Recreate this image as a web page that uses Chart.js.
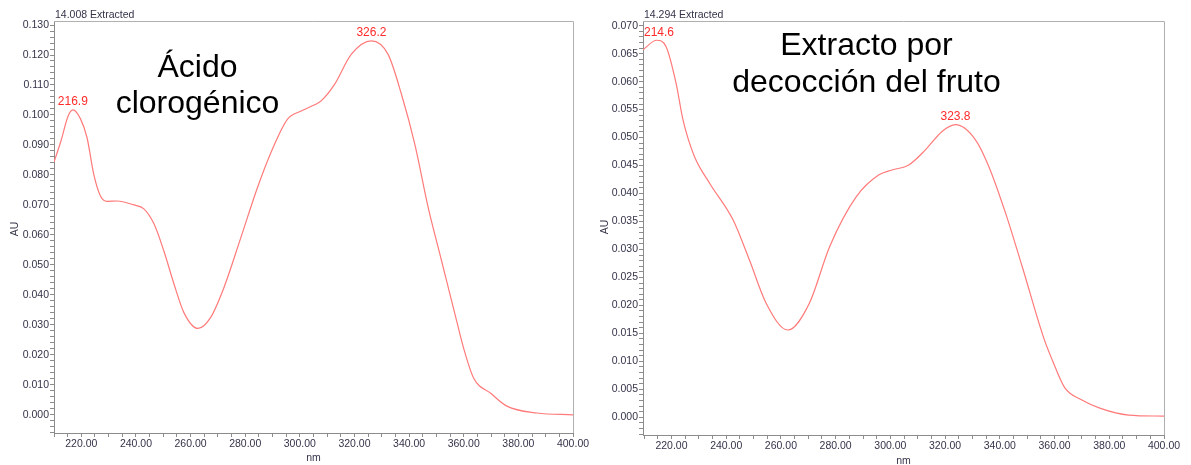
<!DOCTYPE html>
<html>
<head>
<meta charset="utf-8">
<script src="https://cdn.jsdelivr.net/npm/chart.js@4.4.0/dist/chart.umd.min.js"></script>
<style>
  html, body { margin: 0; padding: 0; background: #fff; }
  #wrap { position: relative; width: 1191px; height: 465px; }
  .panel { position: absolute; top: 0; height: 465px; }
</style>
</head>
<body>
<div id="wrap">
  <div class="panel" style="left:0;width:595px"><canvas id="chartA" width="595" height="465"></canvas></div>
  <div class="panel" style="left:595px;width:596px"><canvas id="chartB" width="596" height="465"></canvas></div>
</div>
<script>
// Spectrum A - Ácido clorogénico (nm / AU)
const nmA = [210, 212.6, 215.1, 216.9, 219.7, 222.1, 224.6, 227.0, 229.4, 233.1, 239.2, 242.9, 246.6,
  250.2, 253.9, 257.6, 262.7, 267.3, 272.2, 278.4, 284.5, 289.4, 295.5, 300.5, 305.2, 307.8, 312.7,
  318.8, 326.2, 332.3, 337.2, 342.1, 347.0, 351.9, 357.4, 359.9, 363.6, 370.0, 375.8, 386.8, 400];
const auA = [0.0843, 0.0915, 0.0995, 0.1017, 0.0987, 0.0924, 0.0800, 0.0730, 0.0712, 0.0713, 0.0700, 0.0687, 0.0637,
  0.0547, 0.0437, 0.0340, 0.0288, 0.0324, 0.0424, 0.0591, 0.0758, 0.0874, 0.0986, 0.1013, 0.1033, 0.1047, 0.1102,
  0.1202, 0.1247, 0.1202, 0.1069, 0.0902, 0.0691, 0.0513, 0.0313, 0.0224, 0.0123, 0.0071, 0.0029, 0.0006, 0.0];

// Spectrum B - Extracto por decocción del fruto
const nmB = [209.6, 214.6, 218.0, 221.7, 224.2, 228.4, 234.0, 242.5, 248.5, 254.6, 262.5, 270.4, 277.8,
  287.5, 295.7, 300.6, 306.7, 312.8, 318.9, 323.8, 331.1, 336.0, 342.1, 348.2, 356.1, 359.2, 363.7,
  370.0, 376.8, 387.1, 400];
const auB = [0.0657, 0.0674, 0.0663, 0.0597, 0.0532, 0.0466, 0.0418, 0.0353, 0.0281, 0.0204, 0.0156, 0.0204, 0.0305,
  0.0394, 0.0433, 0.0442, 0.0451, 0.0478, 0.0511, 0.0523, 0.0496, 0.0448, 0.0365, 0.0269, 0.0141, 0.0102, 0.0053,
  0.0031, 0.0016, 0.0004, 0.0002];

// labelled maxima
const peaksA = [216.9, 326.2];
const peakValsA = [0.1017, 0.1247];
const peaksB = [214.6, 323.8];
const peakValsB = [0.0674, 0.0523];

// axis ticks
const xMajor = [220, 240, 260, 280, 300, 320, 340, 360, 380, 400];
const yMajorA = [0.000, 0.010, 0.020, 0.030, 0.040, 0.050, 0.060, 0.070, 0.080, 0.090, 0.100, 0.110, 0.120, 0.130];
const yMajorB = [0.000, 0.005, 0.010, 0.015, 0.020, 0.025, 0.030, 0.035, 0.040, 0.045, 0.050, 0.055, 0.060, 0.065, 0.070];

const FONT = '"Liberation Sans", Arial, sans-serif';
const INK = '#34344a';

function range(a, b, step) {
    const out = [];
    const n = Math.round((b - a) / step);
    for (let i = 0; i <= n; i++) out.push(+(a + i * step).toFixed(6));
    return out;
}

// draws frame, titles, annotation and peak labels
function decor(o) {
    return {
        id: 'decor',
        afterDatasetsDraw(chart) {
            const { ctx, chartArea: a, scales } = chart;
            ctx.save();
            ctx.strokeStyle = '#b0b0b0';
            ctx.lineWidth = 1;
            ctx.beginPath();
            ctx.moveTo(a.left, a.top + 0.5);
            ctx.lineTo(a.right + 0.5, a.top + 0.5);
            ctx.lineTo(a.right + 0.5, a.bottom);
            ctx.stroke();

            ctx.fillStyle = INK;
            ctx.font = '10.5px ' + FONT;
            ctx.textAlign = 'left';
            ctx.textBaseline = 'middle';
            ctx.fillText(o.head, a.left + 1, 15);
            ctx.textAlign = 'center';
            ctx.fillText('nm', (a.left + a.right) / 2, o.nmY);
            ctx.save();
            ctx.translate(o.auX, o.auY);
            ctx.rotate(-Math.PI / 2);
            ctx.fillText('AU', 0, 0);
            ctx.restore();

            ctx.fillStyle = '#000';
            ctx.font = '32px ' + FONT;
            ctx.textBaseline = 'alphabetic';
            o.lines.forEach((t, i) => ctx.fillText(t, o.textX, o.textY[i]));

            ctx.fillStyle = '#ff2a2a';
            ctx.font = '12px ' + FONT;
            ctx.textBaseline = 'bottom';
            o.peaks.forEach((p, i) => {
                const label = p.toFixed(1);
                const w = ctx.measureText(label).width;
                let x = scales.x.getPixelForValue(p);
                if (x - w / 2 < a.left + 1) x = a.left + 1 + w / 2;
                ctx.fillText(label, x, scales.y.getPixelForValue(o.peakVals[i]) - 2);
            });
            ctx.restore();
        }
    };
}

function makeChart(id, nm, au, o) {
    new Chart(document.getElementById(id), {
        type: 'line',
        data: {
            datasets: [{
                data: nm.map((x, i) => ({ x: x, y: au[i] })),
                borderColor: '#ff7a7a',
                borderWidth: 1.2,
                pointRadius: 0,
                fill: false,
                cubicInterpolationMode: 'monotone'
            }]
        },
        options: {
            responsive: false,
            animation: false,
            layout: { padding: { left: 0, top: 21, right: o.padRight, bottom: 0 } },
            plugins: { legend: { display: false }, tooltip: { enabled: false } },
            scales: {
                x: {
                    type: 'linear',
                    min: o.xMin,
                    max: 400,
                    afterBuildTicks: s => { s.ticks = range(Math.ceil(o.xMin / 5) * 5, 400, 5).map(v => ({ value: v })); },
                    afterFit: s => { s.height = o.xAxisH; },
                    border: { color: '#8c8c8c' },
                    grid: { drawOnChartArea: false, tickLength: 4, tickColor: '#8c8c8c' },
                    ticks: {
                        autoSkip: false,
                        maxRotation: 0,
                        padding: 1,
                        color: INK,
                        font: { family: FONT, size: 10.5 },
                        callback: v => xMajor.includes(v) ? v.toFixed(2) : ''
                    }
                },
                y: {
                    min: o.yMin,
                    max: o.yMax,
                    afterBuildTicks: s => { s.ticks = range(o.yFirst, o.yLast, o.yStep).map(v => ({ value: v })); },
                    afterFit: s => { s.width = o.yAxisW; },
                    border: { color: '#8c8c8c' },
                    grid: { drawOnChartArea: false, tickLength: 4, tickColor: '#8c8c8c' },
                    ticks: {
                        autoSkip: false,
                        padding: 1,
                        color: INK,
                        font: { family: FONT, size: 10.5 },
                        callback: v => o.yMajor.some(m => Math.abs(m - v) < 1e-7) ? v.toFixed(3) : ''
                    }
                }
            }
        },
        plugins: [decor(o)]
    });
}

makeChart('chartA', nmA, auA, {
    xMin: 210, yMin: -0.00607, yMax: 0.13134,
    yFirst: -0.006, yLast: 0.130, yStep: 0.002, yMajor: yMajorA,
    padRight: 22, yAxisW: 54, xAxisH: 32,
    head: '14.008 Extracted', nmY: 458, auX: 15, auY: 229,
    lines: ['Ácido', 'clorogénico'], textX: 197.5, textY: [77, 112.5],
    peaks: peaksA, peakVals: peakValsA
});

makeChart('chartB', nmB, auB, {
    xMin: 209.6, yMin: -0.00317, yMax: 0.07084,
    yFirst: -0.003, yLast: 0.070, yStep: 0.001, yMajor: yMajorB,
    padRight: 27, yAxisW: 48, xAxisH: 30,
    head: '14.294 Extracted', nmY: 461, auX: 10, auY: 227,
    lines: ['Extracto por', 'decocción del fruto'], textX: 271.5, textY: [55, 91.5],
    peaks: peaksB, peakVals: peakValsB
});
</script>
</body>
</html>
